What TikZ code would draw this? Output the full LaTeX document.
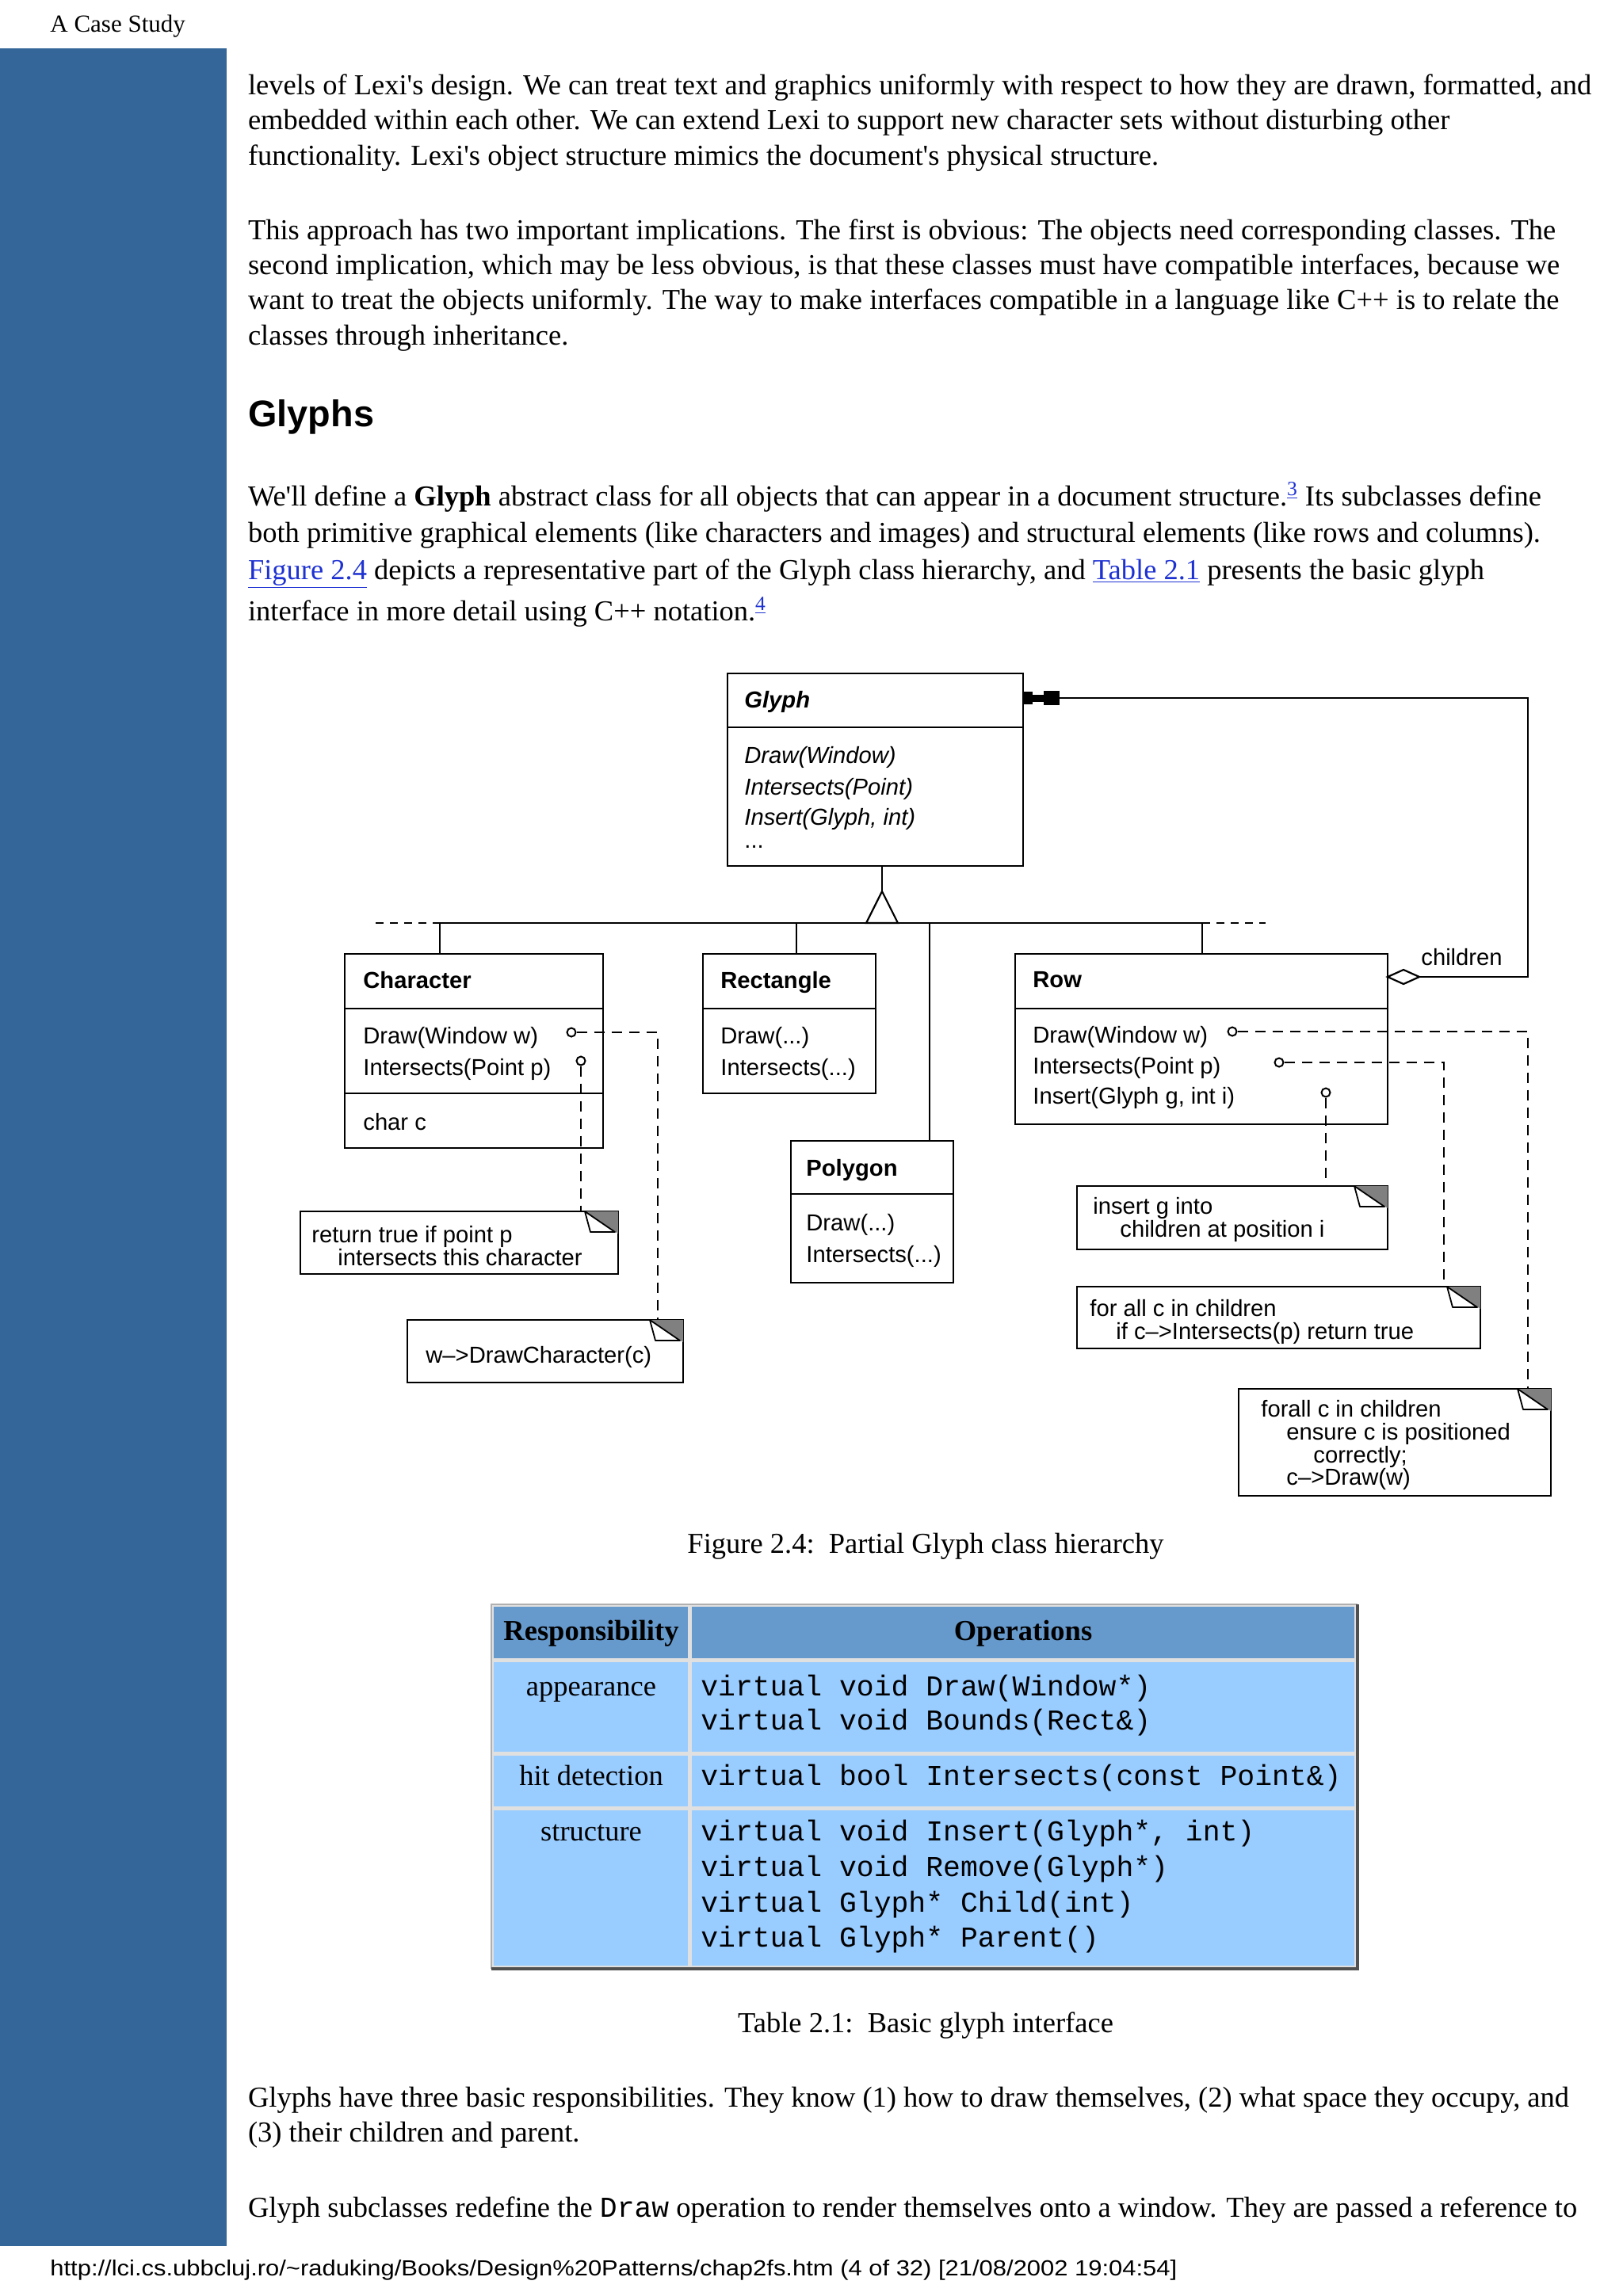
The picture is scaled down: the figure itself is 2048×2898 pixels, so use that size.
\documentclass[tikz,border=0pt]{standalone}
\usepackage{fontspec}
\usepackage{graphicx}
\usetikzlibrary{fit}
\newfontfamily\fSerif{Liberation Serif}
\newfontfamily\fSans{Liberation Sans}
\newfontfamily\fMono{Liberation Mono}
\newcommand\fBody{\fSerif\fontsize{18.25}{22}\selectfont}
\newcommand\fDiag{\fSans\fontsize{14.6}{16}\selectfont}
\newcommand\fTT{\fMono\fontsize{18.2}{22}\selectfont}
\definecolor{sidebar}{RGB}{52,102,153}
\definecolor{linkblue}{RGB}{30,50,210}
\definecolor{thead}{RGB}{102,153,204}
\definecolor{tbody}{RGB}{153,204,255}
\definecolor{tgap}{RGB}{224,224,224}
\definecolor{tdark}{RGB}{80,80,80}
\definecolor{tlight}{RGB}{176,176,176}
\definecolor{foldgray}{RGB}{128,128,128}
\newcommand\mylink[1]{\textcolor{linkblue}{\underline{#1}}}
\tikzset{
  bodytext/.style={anchor=base west, inner sep=0pt, outer sep=0pt, font=\fBody},
  dtext/.style={anchor=base west, inner sep=0pt, font=\fDiag},
  ttext/.style={anchor=base west, inner sep=0pt, font=\fTT},
  ctext/.style={anchor=base, inner sep=0pt, font=\fBody},
  umlbox/.style={draw, line width=1.25pt, inner sep=0pt, outer sep=0pt},
  sepline/.style={line width=1.25pt},
  conn/.style={line width=1.1pt},
  dconn/.style={line width=1.1pt, dash pattern=on 6.5pt off 4.5pt},
  hdash/.style={line width=1.1pt, dash pattern=on 5pt off 4pt},
  port/.style={circle, draw, fill=white, line width=1pt, minimum size=5.5pt, inner sep=0pt},
}
\newcommand\notebox[5]{%
  \node[umlbox, fill=white, fit={(#2,#3) (#4,#5)}] (#1) {};
  \fill[foldgray] (#4-42,#3) -- (#4,#3) -- (#4,#3+28) -- cycle;
  \draw[line width=0.9pt, fill=white, line join=round] (#4-42,#3) -- (#4-35,#3+26) -- (#4-4,#3+26) -- cycle;
}
\begin{document}
\begin{tikzpicture}[x=0.5pt, y=-0.5pt]
\useasboundingbox (0,0) rectangle (2048,2898);
\fill[white] (0,0) rectangle (2048,2898);
\fill[sidebar] (0,61) rectangle (286,2835);
\node[anchor=base west, inner sep=0pt, font=\fSerif\fontsize{15.5}{18}\selectfont] (hdr) at (63,40) {A Case Study};

% paragraphs
\node[bodytext] (p1a) at (313,119) {levels of Lexi's design. We can treat text and graphics uniformly with respect to how they are drawn, formatted, and};
\node[bodytext] (p1b) at (313,163) {embedded within each other. We can extend Lexi to support new character sets without disturbing other};
\node[bodytext] (p1c) at (313,208) {functionality. Lexi's object structure mimics the document's physical structure.};
\node[bodytext] (p2a) at (313,302) {This approach has two important implications. The first is obvious: The objects need corresponding classes. The};
\node[bodytext] (p2b) at (313,346) {second implication, which may be less obvious, is that these classes must have compatible interfaces, because we};
\node[bodytext] (p2c) at (313,390) {want to treat the objects uniformly. The way to make interfaces compatible in a language like C++ is to relate the};
\node[bodytext] (p2d) at (313,435) {classes through inheritance.};
\node[anchor=base west, inner sep=0pt, font=\fSans\bfseries\fontsize{23.4}{28}\selectfont] (h1) at (313,538) {Glyphs};
\node[bodytext] (p3a) at (313,638) {We'll define a \textbf{Glyph} abstract class for all objects that can appear in a document structure.\textsuperscript{\mylink{3}} Its subclasses define};
\node[bodytext] (p3b) at (313,684) {both primitive graphical elements (like characters and images) and structural elements (like rows and columns).};
\node[bodytext] (p3c) at (313,731) {\mylink{Figure 2.4} depicts a representative part of the Glyph class hierarchy, and \mylink{Table 2.1} presents the basic glyph};
\node[bodytext] (p3d) at (313,783) {interface in more detail using C++ notation.\textsuperscript{\mylink{4}}};

% ---------- diagram ----------
% Glyph
\node[umlbox, fit={(918,850) (1291,1093)}] (glyph) {};
\draw[sepline] (918,918) -- (1291,918);
\node[dtext, font=\fDiag\bfseries\itshape] (glyphT) at (939,893) {Glyph};
\node[dtext, font=\fDiag\itshape] (g1) at (939,963) {Draw(Window)};
\node[dtext, font=\fDiag\itshape] (g2) at (939,1003) {Intersects(Point)};
\node[dtext, font=\fDiag\itshape] (g3) at (939,1041) {Insert(Glyph, int)};
\node[dtext] (g4) at (939,1070) {...};

% Character
\node[umlbox, fit={(435,1204) (761,1449)}] (char) {};
\draw[sepline] (435,1273) -- (761,1273);
\draw[sepline] (435,1380) -- (761,1380);
\node[dtext, font=\fDiag\bfseries] (charT) at (458,1247) {Character};
\node[dtext] (c1) at (458,1317) {Draw(Window w)};
\node[dtext] (c2) at (458,1357) {Intersects(Point p)};
\node[dtext] (c3) at (458,1426) {char c};

% Rectangle
\node[umlbox, fit={(887,1204) (1105,1380)}] (rect) {};
\draw[sepline] (887,1273) -- (1105,1273);
\node[dtext, font=\fDiag\bfseries] (rectT) at (909,1247) {Rectangle};
\node[dtext] (r1) at (909,1317) {Draw(...)};
\node[dtext] (r2) at (909,1357) {Intersects(...)};

% Polygon
\node[umlbox, fit={(998,1440) (1203,1619)}] (poly) {};
\draw[sepline] (998,1507) -- (1203,1507);
\node[dtext, font=\fDiag\bfseries] (polyT) at (1017,1484) {Polygon};
\node[dtext] (q1) at (1017,1553) {Draw(...)};
\node[dtext] (q2) at (1017,1593) {Intersects(...)};

% Row
\node[umlbox, fit={(1281,1204) (1751,1419)}] (row) {};
\draw[sepline] (1281,1273) -- (1751,1273);
\node[dtext, font=\fDiag\bfseries] (rowT) at (1303,1246) {Row};
\node[dtext] (w1) at (1303,1316) {Draw(Window w)};
\node[dtext] (w2) at (1303,1355) {Intersects(Point p)};
\node[dtext] (w3) at (1303,1393) {Insert(Glyph g, int i)};

% notes
\notebox{n1}{379}{1529}{780}{1608}
\node[dtext] (n1a) at (393,1568) {return true if point p};
\node[dtext] (n1b) at (426,1597) {intersects this character};
\notebox{n2}{514}{1666}{862}{1745}
\node[dtext] (n2a) at (537,1720) {w–>DrawCharacter(c)};
\notebox{n3}{1359}{1497}{1751}{1577}
\node[dtext] (n3a) at (1379,1532) {insert g into};
\node[dtext] (n3b) at (1413,1561) {children at position i};
\notebox{n4}{1359}{1624}{1868}{1702}
\node[dtext] (n4a) at (1375,1661) {for all c in children};
\node[dtext] (n4b) at (1408,1690) {if c–>Intersects(p) return true};
\notebox{n5}{1563}{1753}{1957}{1888}
\node[dtext] (n5a) at (1591,1788) {forall c in children};
\node[dtext] (n5b) at (1623,1817) {ensure c is positioned};
\node[dtext] (n5c) at (1657,1846) {correctly;};
\node[dtext] (n5d) at (1623,1874) {c–>Draw(w)};

% inheritance
\coordinate (apex) at (1113,1125);
\draw[conn] (apex |- glyph.south) -- (apex);
\draw[conn, fill=white] (apex) -- (1133,1165) -- (1093,1165) -- cycle;
\draw[conn] (555,1165) -- (1517,1165);
\draw[hdash] (474,1165) -- (555,1165);
\draw[hdash] (1517,1165) -- (1597,1165);
\draw[conn] (555,1165) -- (555,0 |- char.north);
\draw[conn] (1005,1165) -- (1005,0 |- rect.north);
\draw[conn] (1173,1165) -- (1173,0 |- poly.north);
\draw[conn] (1517,1165) -- (1517,0 |- row.north);

% aggregation children
\coordinate (compEnd) at (1337,881);
\coordinate (diaR) at (1791,1233);
\fill (1292,873) rectangle (1303,889);
\fill (1303,877) rectangle (1317,886);
\fill (1317,872) rectangle (1337,890);
\draw[conn] (compEnd) -- (1928,881) -- (1928,1233) -- (diaR);
\draw[line width=1.1pt, fill=white] (1751,1233) -- (1771,1224) -- (diaR) -- (1771,1242) -- cycle;
\node[dtext] (childlbl) at (1793,1218) {children};

% ports and dashed connectors
\node[port] (cp1) at (721,1303) {};
\node[port] (cp2) at (733,1339) {};
\node[port] (rp1) at (1555,1302) {};
\node[port] (rp2) at (1614,1341) {};
\node[port] (rp3) at (1673,1379) {};
\draw[dconn] (cp1.east) -- (830,1303) -- (830,0 |- n2.north);
\draw[dconn] (cp2.south) -- (cp2.south |- n1.north);
\draw[dconn] (rp1.east) -- (1928,1302) -- (1928,0 |- n5.north);
\draw[dconn] (rp2.east) -- (1822,1341) -- (1822,0 |- n4.north);
\draw[dconn] (rp3.south) -- (rp3.south |- n3.north);

\node[ctext] (figcap) at (1168,1960) {Figure 2.4:\hspace{0.5em}Partial Glyph class hierarchy};

% ---------- table ----------
\fill[tgap] (620,2025) rectangle (1713,2485);
\fill[thead] (623,2028) rectangle (868,2093);
\fill[thead] (873,2028) rectangle (1709,2093);
\fill[tbody] (623,2098) rectangle (868,2211);
\fill[tbody] (873,2098) rectangle (1709,2211);
\fill[tbody] (623,2216) rectangle (868,2280);
\fill[tbody] (873,2216) rectangle (1709,2280);
\fill[tbody] (623,2285) rectangle (868,2481);
\fill[tbody] (873,2285) rectangle (1709,2481);
\draw[tlight, line width=1.3pt] (620,2485) -- (620,2025) -- (1713,2025);
\draw[tdark, line width=1.6pt] (620,2485) -- (1713,2485) -- (1713,2025);
\node[ctext, font=\fBody\bfseries] (th1) at (746,2070) {Responsibility};
\node[ctext, font=\fBody\bfseries] (th2) at (1291,2070) {Operations};
\node[ctext] (tr1) at (746,2140) {appearance};
\node[ctext] (tr2) at (746,2253) {hit detection};
\node[ctext] (tr3) at (746,2323) {structure};
\node[ttext] (to1) at (884,2140) {virtual void Draw(Window*)};
\node[ttext] (to2) at (884,2183) {virtual void Bounds(Rect\&)};
\node[ttext] (to3) at (884,2253) {virtual bool Intersects(const Point\&)};
\node[ttext] (to4) at (884,2323) {virtual void Insert(Glyph*, int)};
\node[ttext] (to5) at (884,2368) {virtual void Remove(Glyph*)};
\node[ttext] (to6) at (884,2413) {virtual Glyph* Child(int)};
\node[ttext] (to7) at (884,2457) {virtual Glyph* Parent()};

\node[ctext] (tabcap) at (1168,2565) {Table 2.1:\hspace{0.5em}Basic glyph interface};

\node[bodytext] (p4a) at (313,2659) {Glyphs have three basic responsibilities. They know (1) how to draw themselves, (2) what space they occupy, and};
\node[bodytext] (p4b) at (313,2703) {(3) their children and parent.};
\node[bodytext] (p5a) at (313,2798) {Glyph subclasses redefine the {\fTT Draw} operation to render themselves onto a window. They are passed a reference to};

\node[anchor=base west, inner sep=0pt] (foot) at (63,2872) {\resizebox{711pt}{10pt}{\fSans http://lci.cs.ubbcluj.ro/\textasciitilde raduking/Books/Design\%20Patterns/chap2fs.htm (4 of 32) [21/08/2002 19:04:54]}};
\end{tikzpicture}
\end{document}
